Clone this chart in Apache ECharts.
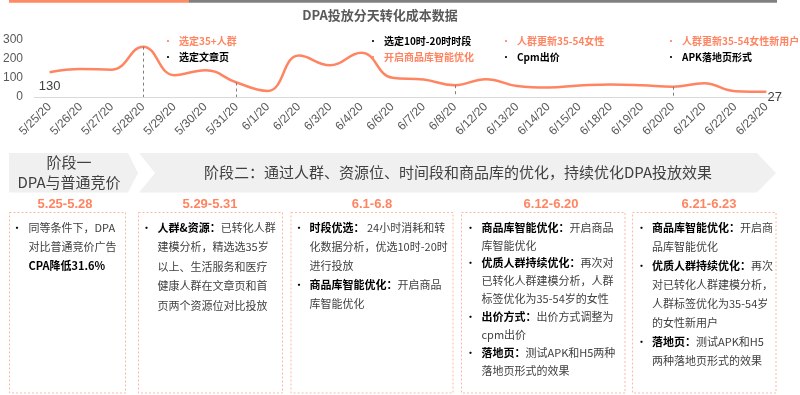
<!DOCTYPE html>
<html><head><meta charset="utf-8">
<script src="https://cdn.jsdelivr.net/npm/echarts@6/dist/echarts.min.js"></script>
<style>html,body{margin:0;padding:0;background:#fff}#c{width:800px;height:395px}</style>
</head><body><div id="c"></div>
<script>
// ---- data ----
const categories = ['5/25/20','5/26/20','5/27/20','5/28/20','5/29/20','5/30/20','5/31/20','6/1/20','6/2/20','6/3/20','6/4/20','6/6/20','6/7/20','6/8/20','6/12/20','6/13/20','6/14/20','6/15/20','6/18/20','6/19/20','6/20/20','6/21/20','6/22/20','6/23/20'];
const cpaValues = [130,147,144,265,115,141,76,32,218,167,233,101,92,62,94,58,50,60,66,62,54,72,30,27];
const yTicks = [0,100,200,300];
const dropDates = ['5/28/20','5/31/20','6/8/20','6/20/20'];
const titleText = 'DPA投放分天转化成本数据';
const notes = [
  {x:168, top:['选定35+人群','o'], bottom:['选定文章页','k']},
  {x:373, top:['选定10时-20时时段','k'], bottom:['开启商品库智能优化','o']},
  {x:506, top:['人群更新35-54女性','o'], bottom:['Cpm出价','k']},
  {x:671, top:['人群更新35-54女性新用户','o'], bottom:['APK落地页形式','k']}
];
const phase1 = ['阶段一','DPA与普通竞价'];
const phase2 = '阶段二：通过人群、资源位、时间段和商品库的优化，持续优化DPA投放效果';
const periods = ['5.25-5.28','5.29-5.31','6.1-6.8','6.12-6.20','6.21-6.23'];
const boxTexts = [
  [['•','','同等条件下，DPA'],['','','对比普通竞价广告'],['','CPA降低31.6%','']],
  [['•','人群&资源：','已转化人群'],['','','建模分析，精选选35岁'],['','','以上、生活服务和医疗'],['','','健康人群在文章页和首'],['','','页两个资源位对比投放']],
  [['•','时段优选：',' 24小时消耗和转'],['','','化数据分析，优选10时-20时'],['','','进行投放'],['•','商品库智能优化：','开启商品'],['','','库智能优化']],
  [['•','商品库智能优化：','开启商品'],['','','库智能优化'],['•','优质人群持续优化：','再次对'],['','','已转化人群建模分析，人群'],['','','标签优化为35-54岁的女性'],['•','出价方式：','出价方式调整为'],['','','cpm出价'],['•','落地页：','测试APK和H5两种'],['','','落地页形式的效果']],
  [['•','商品库智能优化：','开启商'],['','','品库智能优化'],['•','优质人群持续优化：','再次'],['','','对已转化人群建模分析，'],['','','人群标签优化为35-54岁'],['','','的女性新用户'],['•','落地页：','测试APK和H5'],['','','两种落地页形式的效果']]
];

// ---- layout / style ----
const ORANGE = '#FF8562';
const CJK = "'Noto Sans CJK SC','Microsoft YaHei',sans-serif";
const LAT = "'Liberation Sans','Noto Sans CJK SC',sans-serif";
const boxGeom = [
  {x:9.5, w:116, hx:65, bx:17, tx:28.5, lh:19.3},
  {x:138.5, w:144, hx:210, bx:146.5, tx:157.5, lh:19.6},
  {x:291, w:162, hx:372, bx:299, tx:309.5, lh:19.2},
  {x:461.5, w:163.5, hx:551, bx:470.5, tx:481.5, lh:17.9},
  {x:632.5, w:143.5, hx:709, bx:641.5, tx:652, lh:19.1}
];

const graphic = [];
graphic.push({type:'rect', shape:{x:9,y:0,width:180,height:2.7}, style:{fill:'#FF8A66'}});
graphic.push({type:'rect', shape:{x:189,y:0,width:588,height:2.7}, style:{fill:'#808080'}});
graphic.push({type:'text', x:380, y:15, style:{text:titleText, font:"bold 13px "+CJK, fill:'#595959', textAlign:'center', textVerticalAlign:'middle'}});
notes.forEach(n=>{
  [[n.top,41.5],[n.bottom,57.5]].forEach(([t,y])=>{
    const col = t[1]==='o'?ORANGE:'#000';
    graphic.push({type:'text', x:n.x, y:y, style:{text:'•', font:"10px "+CJK, fill:col, textAlign:'center', textVerticalAlign:'middle'}});
    graphic.push({type:'text', x:n.x+11, y:y, style:{text:t[0], font:"bold 10px "+CJK, fill:col, textVerticalAlign:'middle'}});
  });
});
// chevrons
graphic.push({type:'polygon', shape:{points:[[9,153],[128,153],[138,173],[128,192.5],[9,192.5]]}, style:{fill:'#F0F0F0'}});
graphic.push({type:'polygon', shape:{points:[[139,153],[757,153],[776,173],[757,192.5],[139,192.5],[155,173]]}, style:{fill:'#F0F0F0'}});
graphic.push({type:'text', x:69, y:162, style:{text:phase1[0], font:"15px "+CJK, fill:'#404040', textAlign:'center', textVerticalAlign:'middle'}});
graphic.push({type:'text', x:69, y:182, style:{text:phase1[1], font:"15px "+CJK, fill:'#404040', textAlign:'center', textVerticalAlign:'middle'}});
graphic.push({type:'text', x:458, y:172.5, style:{text:phase2, font:"15px "+CJK, fill:'#404040', textAlign:'center', textVerticalAlign:'middle'}});
// boxes
boxGeom.forEach((g,i)=>{
  graphic.push({type:'text', x:g.hx, y:204, style:{text:periods[i], font:"bold 13px "+LAT, fill:ORANGE, textAlign:'center', textVerticalAlign:'middle'}});
  graphic.push({type:'rect', shape:{x:g.x,y:212.5,width:g.w,height:180.5}, style:{fill:null, stroke:'#FFB9A2', lineWidth:1, lineDash:[2,2]}});
  boxTexts[i].forEach((ln,j)=>{
    const y = 227.5 + j*g.lh;
    if(ln[0]) graphic.push({type:'text', x:g.bx, y:y, style:{text:'•', font:"11px "+CJK, fill:'#000', textAlign:'center', textVerticalAlign:'middle'}});
    graphic.push({type:'text', x:g.tx, y:y, style:{
      text:(ln[1]?'{b|'+ln[1]+'}':'')+(ln[2]?'{n|'+ln[2]+'}':''),
      textVerticalAlign:'middle',
      rich:{b:{font:"bold 11px "+CJK, fill:'#000'}, n:{font:"11px "+CJK, fill:'#404040'}}
    }});
  });
});

const last = cpaValues.length-1;
const seriesData = cpaValues.map((v,i)=>{
  if(i===0) return {value:v, label:{show:true, position:'bottom', distance:8}};
  if(i===last) return {value:v, label:{show:true, position:'right', distance:1, offset:[0,6]}};
  return v;
});
const markData = dropDates.map(d=>{
  const v = cpaValues[categories.indexOf(d)];
  return [{coord:[d, v]},{coord:[d, 0]}];
});

const chart = echarts.init(document.getElementById('c'), null, {renderer:'canvas'});
chart.setOption({
  animation:false,
  grid:{left:29, right:18, top:40, height:57},
  xAxis:{type:'category', data:categories, boundaryGap:true,
    axisLine:{lineStyle:{color:'#D9D9D9'}}, axisTick:{show:false},
    axisLabel:{rotate:45, fontSize:12, color:'#595959', fontFamily:LAT, interval:0, margin:8}},
  yAxis:{type:'value', min:yTicks[0], max:yTicks[yTicks.length-1], interval:100,
    splitLine:{show:false}, axisLine:{show:false}, axisTick:{show:false},
    axisLabel:{fontSize:12, color:'#595959', fontFamily:LAT, margin:11}},
  series:[{type:'line', data:seriesData, smooth:0.45, symbol:'circle', symbolSize:0, showSymbol:true,
    lineStyle:{color:ORANGE, width:2.5}, itemStyle:{color:ORANGE},
    label:{show:false, fontSize:13, color:'#404040', fontFamily:LAT},
    markLine:{silent:true, symbol:'none', label:{show:false},
      lineStyle:{color:'#7F7F7F', type:[3,3], width:1}, data:markData}
  }],
  graphic:graphic
});
</script></body></html>
